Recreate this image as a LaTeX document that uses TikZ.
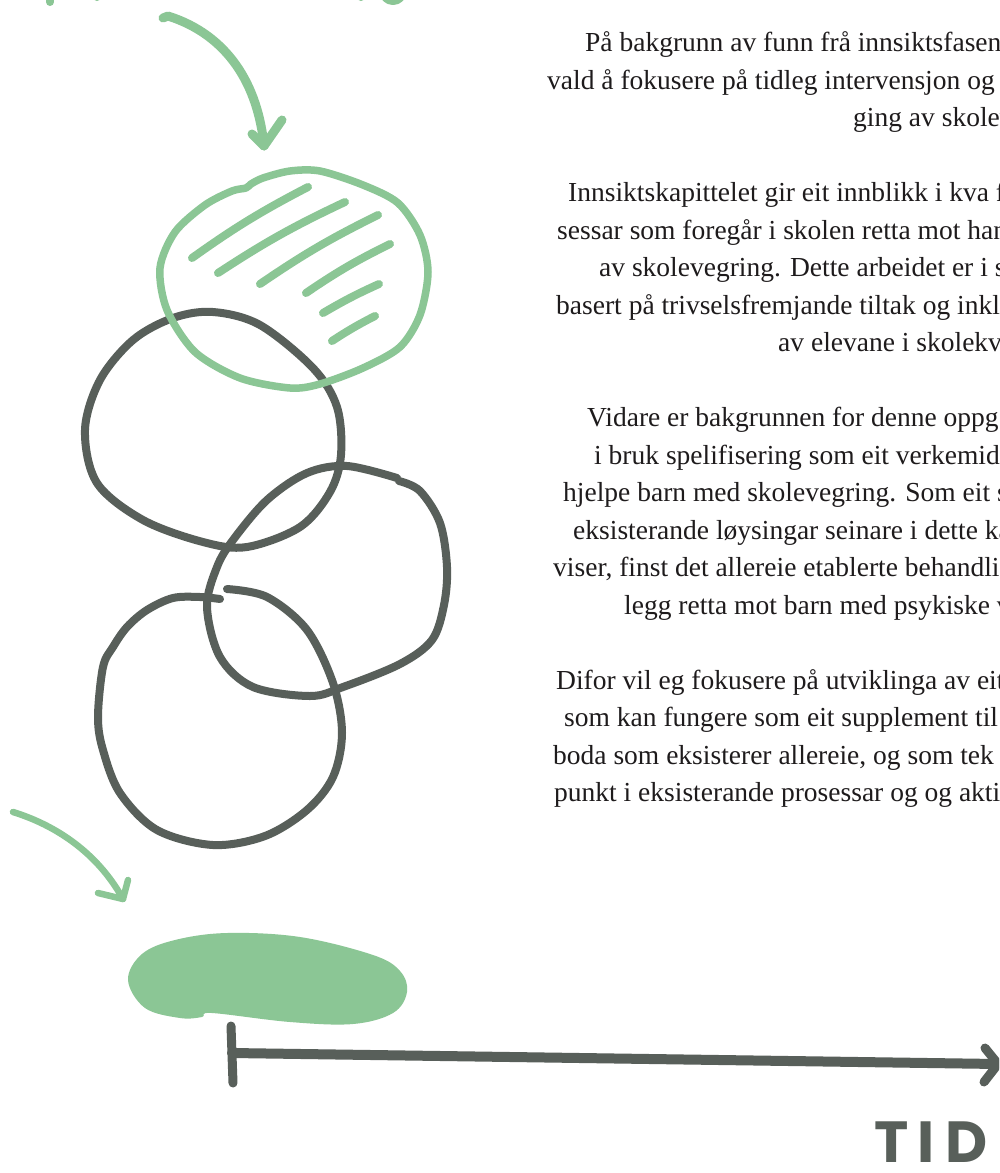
\documentclass[tikz,border=0pt]{standalone}
\usepackage{fontspec}
\setmainfont{Liberation Serif}
\newfontfamily\tidfont{Poppins}
\definecolor{grn}{HTML}{8BC695}
\definecolor{drk}{HTML}{585F5A}
\definecolor{txt}{HTML}{1E1B1C}
\tikzset{
  gstroke/.style={draw=grn, line width=8pt, line cap=round, line join=round},
  dstroke/.style={draw=drk, line width=8pt, line cap=round, line join=round},
  txtline/.style={anchor=base west, inner sep=0pt, text=txt, font=\fontsize{27.5}{37}\selectfont},
}
\begin{document}
\begin{tikzpicture}[x=1pt,y=-1pt]
\useasboundingbox (0,0) rectangle (999,1173);
\clip (0,0) rectangle (999,1173);
\fill[white] (0,0) rectangle (999,1173);

% fragments of cropped green lettering at top
\draw[gstroke] (50,-12) -- (50,2);
\draw[gstroke] (97,-12) -- (97,-3);
\draw[gstroke] (361,-12) -- (361,-3);
\draw[gstroke] (393,-9) circle[radius=10];

% top arrow
\coordinate (a1s) at (163,18);
\coordinate (a1t) at (264,146);
\draw[gstroke, line width=9pt] (a1s) -- (168,16) .. controls (228,35) and (258,85) .. (a1t);
\draw[gstroke, line width=9pt] ([shift={(-12,-12)}]a1t) -- (a1t) -- ([shift={(18,-26)}]a1t);

% dark circles
\draw[dstroke] plot[smooth cycle, tension=0.55] coordinates {(213,312) (260,325) (313,368) (337,407) (341,455) (330,492) (300,527) (247,547) (203,542) (143,520) (97,483) (85,430) (100,380) (133,340) (173,318)};
\draw[dstroke] plot[smooth, tension=0.55] coordinates {(399,481) (420,491) (440,523) (447,567) (444,605) (432,640) (400,664) (343,687) (310,696) (253,687) (220,657) (207,607) (217,567) (233,540) (267,500) (307,473) (347,466) (397,478)};
\draw[dstroke] plot[smooth, tension=0.55] coordinates {(227,589) (267,597) (307,630) (333,683) (342,733) (333,777) (307,810) (265,836) (213,845) (157,830) (120,793) (103,750) (98,717) (103,667) (113,647) (127,627) (147,610) (173,598) (200,597) (220,599)};

% green hatched ring
\draw[gstroke, line width=7.5pt] plot[smooth cycle, tension=0.5] coordinates {(263,178) (290,171) (320,171) (363,185) (398,203) (420,235) (428,272) (420,315) (400,347) (363,368) (320,384) (290,388) (240,378) (195,352) (167,310) (160,268) (175,232) (205,205) (232,191) (246,188) (251,184)};
\draw[gstroke] (192,258) to[bend left=4] (308,187);
\draw[gstroke] (218,273) to[bend left=4] (345,202);
\draw[gstroke] (260,284) to[bend left=4] (378,215);
\draw[gstroke] (306,293) to[bend left=4] (390,244);
\draw[gstroke] (323,313) to[bend left=3] (379,284);
\draw[gstroke] (332,341) to[bend left=3] (375,316);

% bottom-left arrow
\coordinate (a2s) at (13,812);
\coordinate (a2t) at (123,899);
\draw[gstroke, line width=6.5pt] (a2s) .. controls (55,825) and (97,852) .. (a2t);
\draw[gstroke, line width=6.5pt] ([shift={(-25,-6)}]a2t) -- (a2t) -- ([shift={(5,-19)}]a2t);

% green filled blob
\fill[grn] plot[smooth cycle, tension=0.6] coordinates {(128,980) (142,954) (175,940) (227,933) (300,937) (373,955) (400,971) (407,992) (393,1013) (353,1024) (290,1022) (212,1013) (202,1017) (180,1018) (145,1008)};

% timeline
\coordinate (tl0) at (232,1053);
\coordinate (tl1) at (998,1064);
\draw[dstroke, line width=9pt] (231,1026) -- (233,1083);
\draw[dstroke, line width=10pt] (tl0) -- (tl1);
\draw[dstroke, line width=9pt] ([shift={(-13,-16)}]tl1) -- (tl1) -- ([shift={(-14,18)}]tl1);

\node[anchor=base west, inner sep=0pt, text=drk, font=\tidfont\bfseries\fontsize{58}{58}\selectfont] (tid) at (874,1162) {T\hspace{9pt}I\hspace{11pt}D};

% text
\node[txtline] (t1) at (585,51.5) {På bakgrunn av funn frå innsiktsfasen};
\node[txtline] (t2) at (547,89) {vald å fokusere på tidleg intervensjon og f};
\node[txtline] (t3) at (853,126.5) {ging av skolev};
\node[txtline] (t4) at (568,201.5) {Innsiktskapittelet gir eit innblikk i kva f};
\node[txtline] (t5) at (557,239) {sessar som foregår i skolen retta mot han};
\node[txtline] (t6) at (599,276.5) {av skolevegring. Dette arbeidet er i st};
\node[txtline] (t7) at (556,314) {basert på trivselsfremjande tiltak og inklu};
\node[txtline] (t8) at (778,351.5) {av elevane i skolekva};
\node[txtline] (t9) at (587,426.5) {Vidare er bakgrunnen for denne oppg};
\node[txtline] (t10) at (594,464) {i bruk spelifisering som eit verkemidd};
\node[txtline] (t11) at (563,501.5) {hjelpe barn med skolevegring. Som eit st};
\node[txtline] (t12) at (573,539) {eksisterande løysingar seinare i dette ka};
\node[txtline] (t13) at (553,576.5) {viser, finst det allereie etablerte behandlin};
\node[txtline] (t14) at (624,614) {legg retta mot barn med psykiske v};
\node[txtline] (t15) at (556,689) {Difor vil eg fokusere på utviklinga av eit};
\node[txtline] (t16) at (564,726.5) {som kan fungere som eit supplement til};
\node[txtline] (t17) at (553,764) {boda som eksisterer allereie, og som tek u};
\node[txtline] (t18) at (554,801.5) {punkt i eksisterande prosessar og og aktiv};
\end{tikzpicture}
\end{document}
